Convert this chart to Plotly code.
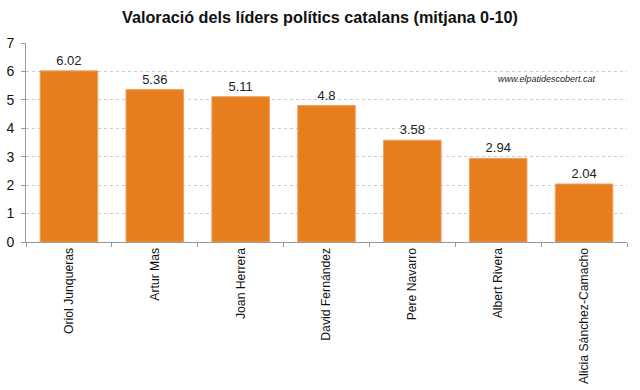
import plotly.graph_objects as go

leaders = ["Oriol Junqueras", "Artur Mas", "Joan Herrera", "David Fernández",
           "Pere Navarro", "Albert Rivera", "Alicia Sánchez-Camacho"]
scores = [6.02, 5.36, 5.11, 4.8, 3.58, 2.94, 2.04]
score_labels = ["6.02", "5.36", "5.11", "4.8", "3.58", "2.94", "2.04"]
y_ticks = [0, 1, 2, 3, 4, 5, 6, 7]

fig = go.Figure(go.Bar(
    x=leaders, y=scores, text=score_labels, textposition="outside",
    textfont=dict(size=13, color="#222222", family="Liberation Sans, Arial"),
    marker=dict(color="#E67E1E", line=dict(color="#F0A060", width=1)),
    width=0.67, cliponaxis=False,
))

fig.update_layout(
    width=640, height=390,
    margin=dict(l=26, r=13, t=43, b=148),
    paper_bgcolor="white", plot_bgcolor="white",
    font=dict(family="Liberation Sans, Arial", color="#000000"),
    title=dict(text="<b>Valoració dels líders polítics catalans (mitjana 0-10)</b>",
               x=0.5, xanchor="center", y=0.955, yanchor="middle",
               font=dict(size=16.2, color="#111111")),
    showlegend=False,
)
fig.update_yaxes(
    range=[0, 7], tickvals=y_ticks, ticks="outside", ticklen=4, tickcolor="#999999",
    showgrid=True, gridcolor="#cccccc", griddash="dot", gridwidth=1,
    showline=True, linecolor="#999999", linewidth=1,
    tickfont=dict(size=14, color="#111111"), zeroline=False,
    ticklabelstandoff=4, automargin=False,
)
fig.update_xaxes(
    tickangle=-90, tickfont=dict(size=12.2, color="#111111"),
    showline=True, linecolor="#999999", linewidth=1,
    ticks="outside", tickson="boundaries", ticklen=4, tickcolor="#999999",
    automargin=False,
)
fig.add_annotation(
    text="<i>www.elpatidescobert.cat</i>", xref="paper", yref="paper",
    x=0.952, y=0.82, xanchor="right", yanchor="middle", showarrow=False,
    font=dict(size=9, color="#222222"),
)

fig.write_html("out.html")
